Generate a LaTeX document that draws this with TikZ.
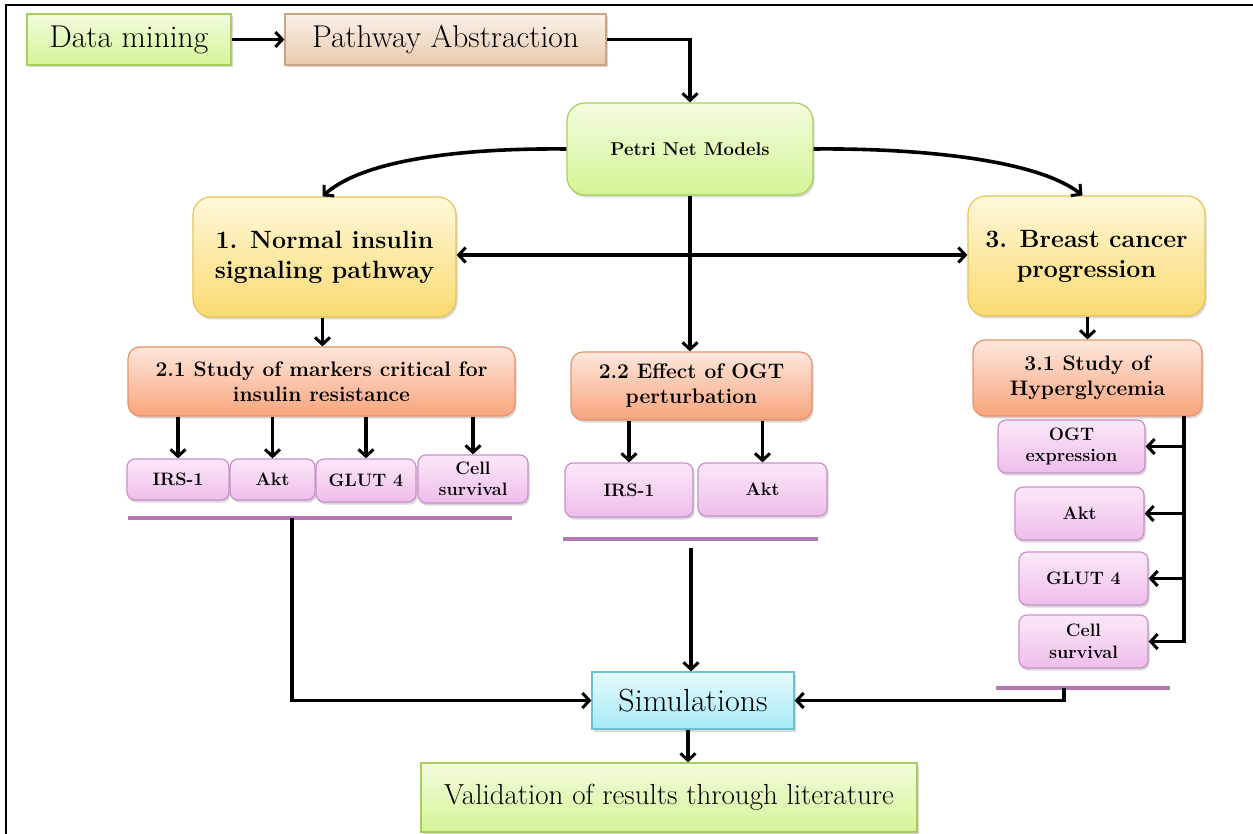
\documentclass[tikz,border=0pt]{standalone}
\usetikzlibrary{arrows.meta,shadows,calc}

\definecolor{grnT}{HTML}{F3FCDE}
\definecolor{grnB}{HTML}{D4F496}
\definecolor{grnD}{HTML}{A6CF5A}
\definecolor{tanT}{HTML}{FAF1E9}
\definecolor{tanB}{HTML}{E8CAAC}
\definecolor{tanD}{HTML}{C9A583}
\definecolor{ylwT}{HTML}{FFF8DA}
\definecolor{ylwB}{HTML}{FADA70}
\definecolor{ylwD}{HTML}{E9C456}
\definecolor{salT}{HTML}{FDE7DC}
\definecolor{salB}{HTML}{F8A47C}
\definecolor{salD}{HTML}{E8926A}
\definecolor{pnkT}{HTML}{FBE8F9}
\definecolor{pnkB}{HTML}{EFBDEB}
\definecolor{pnkD}{HTML}{C890C8}
\definecolor{cynT}{HTML}{E6FAFD}
\definecolor{cynB}{HTML}{A6EAF6}
\definecolor{cynD}{HTML}{6EC0D0}
\definecolor{rule}{HTML}{B478B4}

\tikzset{
  x=1pt, y=-1pt,
  >={Straight Barb[length=7pt,width=15pt,line width=3pt]},
  box/.style={draw, line width=1.2pt, inner sep=0pt, align=center,
    drop shadow={opacity=0.3, shadow xshift=1.5pt, shadow yshift=-2.5pt}},
  greenbox/.style={box, top color=grnT, bottom color=grnB, draw=grnD},
  tanbox/.style={box, top color=tanT, bottom color=tanB, draw=tanD},
  yellowbox/.style={box, top color=ylwT, bottom color=ylwB, draw=ylwD, rounded corners=18pt},
  salmonbox/.style={box, top color=salT, bottom color=salB, draw=salD, rounded corners=12pt},
  pinkbox/.style={box, top color=pnkT, bottom color=pnkB, draw=pnkD, rounded corners=8pt},
  cyanbox/.style={box, top color=cynT, bottom color=cynB, draw=cynD},
  sz/.style 2 args={minimum width=#1pt, minimum height=#2pt},
  conn/.style={line width=3.6pt, ->},
  bothconn/.style={line width=3.6pt, <->},
  purplerule/.style={draw=rule, line width=4pt},
  bigtxt/.style={font=\fontsize{31.5}{34}\selectfont},
  headtxt/.style={font=\fontsize{25}{30}\selectfont\bfseries},
  midtxt/.style={font=\fontsize{21}{25}\selectfont\bfseries},
  smalltxt/.style={font=\fontsize{18}{21.5}\selectfont\bfseries},
}

\begin{document}
\begin{tikzpicture}
\useasboundingbox (0,0) rectangle (1253,834);
\fill[white] (0,0) rectangle (1253,834);

% outer frame
\draw[line width=1.6pt] (6,834) -- (6,5) -- (1253,5);

% top row
\node[greenbox, sz={204}{51}, bigtxt] (dm) at (129,39.5) {Data mining};
\node[tanbox, sz={321}{51}, bigtxt] (pa) at (445.5,39.5) {Pathway Abstraction};
\node[greenbox, rounded corners=18pt, sz={246}{92}, font=\fontsize{18.5}{22}\selectfont\bfseries] (petri) at (690,149) {Petri Net Models};

% three branches
\node[yellowbox, sz={263}{120}, headtxt] (b1) at (324.5,257) {1. Normal insulin\\signaling pathway};
\node[yellowbox, sz={237}{120}, headtxt] (b3) at (1086.5,256) {3. Breast cancer\\progression};

\node[salmonbox, sz={387}{69}, midtxt] (b21) at (321.5,381.5) {2.1 Study of markers critical for\\insulin resistance};
\node[salmonbox, sz={241}{68}, midtxt] (b22) at (691.5,386) {2.2 Effect of OGT\\perturbation};
\node[salmonbox, sz={229}{76}, midtxt] (b31) at (1087.5,378) {3.1 Study of\\Hyperglycemia};

% markers under 2.1
\node[pinkbox, sz={102}{41}, smalltxt] (m1) at (178,479.5) {IRS-1};
\node[pinkbox, sz={85}{41}, smalltxt] (m2) at (272.5,479.5) {Akt};
\node[pinkbox, sz={100}{43}, smalltxt] (m3) at (366,480.5) {GLUT 4};
\node[pinkbox, sz={110}{48}, smalltxt] (m4) at (473,479) {Cell\\survival};

% markers under 2.2
\node[pinkbox, sz={128}{54}, smalltxt] (p1) at (629,490) {IRS-1};
\node[pinkbox, sz={129}{53}, smalltxt] (p2) at (762.5,489.5) {Akt};

% markers under 3.1
\node[pinkbox, sz={147}{53}, smalltxt] (q1) at (1071.5,446.5) {OGT\\expression};
\node[pinkbox, sz={129}{53}, smalltxt] (q2) at (1079.5,513.5) {Akt};
\node[pinkbox, sz={129}{53}, smalltxt] (q3) at (1083.5,578.5) {GLUT 4};
\node[pinkbox, sz={129}{53}, smalltxt] (q4) at (1083.5,641.5) {Cell\\survival};

% bottom
\node[cyanbox, sz={202}{57}, font=\fontsize{32}{36}\selectfont] (sim) at (693,700.5) {Simulations};
\node[greenbox, sz={496}{69}, font=\fontsize{29}{33}\selectfont] (val) at (669,797.5) {Validation of results through literature};

% rules under the marker groups
\coordinate (r1a) at (128,518);  \coordinate (r1b) at (512,518);
\coordinate (r2a) at (563,539);  \coordinate (r2b) at (818,539);
\coordinate (r3a) at (996,688);  \coordinate (r3b) at (1170,688);
\draw[purplerule] (r1a) -- (r1b);
\draw[purplerule] (r2a) -- (r2b);
\draw[purplerule] (r3a) -- (r3b);
\coordinate (t1) at (292,518);
\coordinate (t2) at (691,548);
\coordinate (t3) at (1064,688);
\coordinate (bus) at (1184,416);

% connectors
\draw[conn] (dm.east) -- (pa.west);
\draw[conn] (pa.east) -| (petri.north);
\draw[conn] (petri.west) .. controls (470,148) and (365,158) .. ([xshift=-2pt]b1.north);
\draw[conn] (petri.east) .. controls (910,148) and (1035,158) .. ([xshift=-4pt]b3.north);
\draw[bothconn] ([yshift=2pt]b1.east) -- ([yshift=2pt]b1.east -| b3.west);
\draw[conn] (petri.south) -- (petri.south |- b22.north);
\draw[conn] ([xshift=-2pt]b1.south) -- ([xshift=-2pt]b1.south |- b21.north);
\draw[conn] ([xshift=1pt]b3.south) -- ([xshift=1pt]b3.south |- b31.north);

\foreach \m in {m1,m2,m3,m4}
  \draw[conn] (b21.south -| \m.north) -- (\m.north);
\foreach \m in {p1,p2}
  \draw[conn] (b22.south -| \m.north) -- (\m.north);
\foreach \m in {q1,q2,q3,q4}
  \draw[conn] (bus) |- (\m.east);

\draw[conn] (t1) |- (sim.west);
\draw[conn] (t2) -- (t2 |- sim.north);
\draw[conn] (t3) |- (sim.east);
\draw[conn] ([xshift=-5pt]sim.south) -- ([xshift=-5pt]sim.south |- val.north);
\end{tikzpicture}
\end{document}
